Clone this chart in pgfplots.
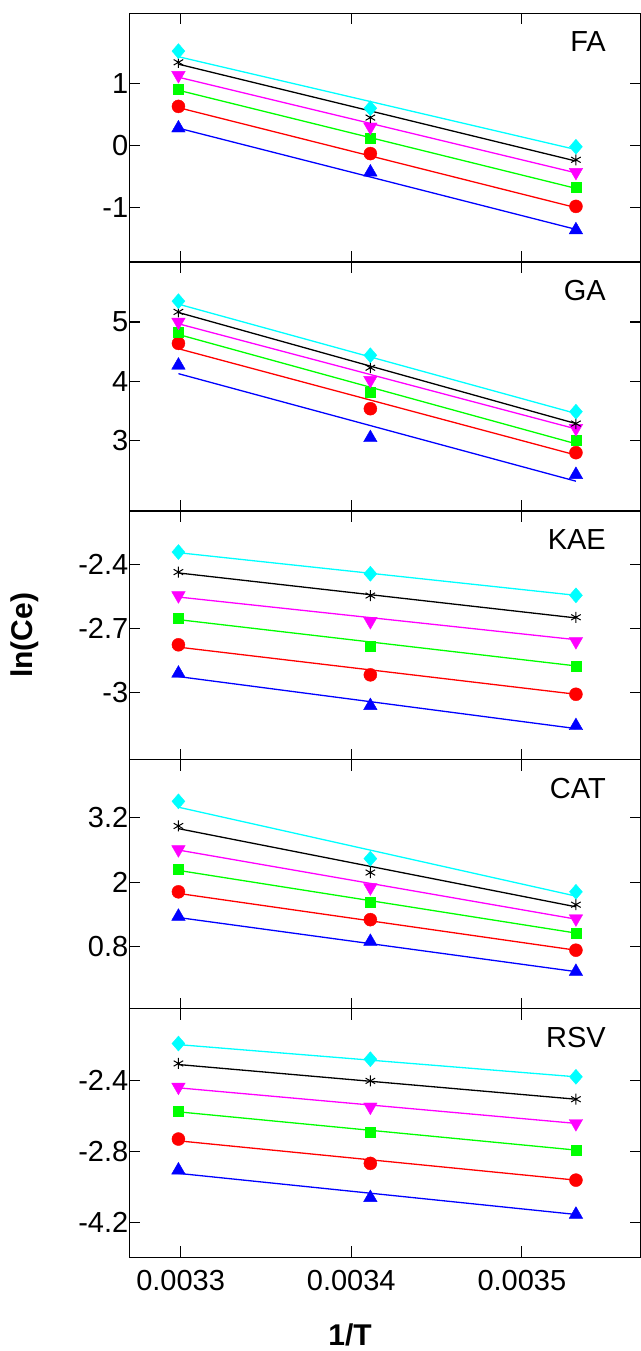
\documentclass[border=0pt]{standalone}
\usepackage{pgfplots}
\usepackage{pgfplotstable}
\pgfplotsset{compat=1.18}
\usepackage{fontspec}
\setmainfont{Liberation Sans}

\definecolor{cCyan}{RGB}{0,255,255}
\definecolor{cMag}{RGB}{255,0,255}
\definecolor{cGreen}{RGB}{0,255,0}
\definecolor{cRed}{RGB}{255,0,0}
\definecolor{cBlue}{RGB}{0,0,255}

% ---------- data: points (x, blue, red, green, magenta, black, cyan) ----------
\pgfplotstableread{
x b r g m k c
0.0032987 0.28 0.63 0.91 1.13 1.34 1.52
0.0034112 -0.43 -0.13 0.11 0.30 0.45 0.60
0.0035317 -1.36 -0.98 -0.67 -0.43 -0.23 -0.02
}\FApts
\pgfplotstableread{
x b r g m k c
0.0032987 0.28 0.61 0.89 1.10 1.31 1.43
0.0035317 -1.35 -1.00 -0.69 -0.44 -0.25 -0.065
}\FAfit
\pgfplotstableread{
x b r g m k c
0.0032987 4.27 4.64 4.83 5.00 5.17 5.35
0.0034112 3.05 3.54 3.82 4.02 4.23 4.44
0.0035317 2.43 2.80 3.01 3.21 3.29 3.49
}\GApts
\pgfplotstableread{
x b r g m k c
0.0032987 4.13 4.55 4.79 4.97 5.16 5.30
0.0035317 2.32 2.76 2.95 3.20 3.29 3.46
}\GAfit
\pgfplotstableread{
x b r g m k c
0.0032987 -2.911 -2.777 -2.651 -2.546 -2.436 -2.342
0.0034112 -3.063 -2.918 -2.785 -2.667 -2.546 -2.444
0.0035317 -3.157 -3.009 -2.876 -2.761 -2.648 -2.545
}\KAEpts
\pgfplotstableread{
x b r g m k c
0.0032987 -2.926 -2.788 -2.659 -2.553 -2.440 -2.345
0.0035317 -3.170 -3.009 -2.876 -2.753 -2.651 -2.545
}\KAEfit
\pgfplotstableread{
x b r g m k c
0.0032987 1.36 1.82 2.24 2.61 3.05 3.51
0.0034112 0.89 1.30 1.62 1.90 2.18 2.44
0.0035317 0.33 0.73 1.05 1.32 1.58 1.82
}\CATpts
\pgfplotstableread{
x b r g m k c
0.0032987 1.34 1.79 2.22 2.60 3.00 3.40
0.0035317 0.33 0.73 1.05 1.31 1.54 1.74
}\CATfit
\pgfplotstableread{
x b r g m k c
0.0032987 -2.906 -2.731 -2.574 -2.438 -2.306 -2.194
0.0034112 -3.061 -2.868 -2.694 -2.550 -2.404 -2.282
0.0035317 -3.155 -2.962 -2.793 -2.643 -2.507 -2.381
}\RSVpts
\pgfplotstableread{
x b r g m k c
0.0032987 -2.924 -2.741 -2.578 -2.443 -2.312 -2.200
0.0035317 -3.155 -2.962 -2.793 -2.643 -2.507 -2.381
}\RSVfit

\newcommand\drawseries[2]{%
  \addplot[cBlue, fitline] table[x=x,y=b]{#2};
  \addplot[cRed, fitline] table[x=x,y=r]{#2};
  \addplot[cGreen, fitline] table[x=x,y=g]{#2};
  \addplot[cMag, fitline] table[x=x,y=m]{#2};
  \addplot[black, fitline] table[x=x,y=k]{#2};
  \addplot[cCyan, fitline] table[x=x,y=c]{#2};
  \addplot[only marks, cBlue, mark=triangle*, mark size=7.8pt] table[x=x,y=b]{#1};
  \addplot[only marks, cRed, mark=*, mark size=6.5pt] table[x=x,y=r]{#1};
  \addplot[only marks, cGreen, mark=square*, mark size=5pt] table[x=x,y=g]{#1};
  \addplot[only marks, cMag, mark=triangle*, mark size=7.8pt, mark options={rotate=180}] table[x=x,y=m]{#1};
  \addplot[only marks, black, mark=asterisk, mark size=5.5pt, mark options={line width=1pt}] table[x=x,y=k]{#1};
  \addplot[only marks, cCyan, mark=diamond*, mark size=7.5pt, mark options={xscale=1.15}] table[x=x,y=c]{#1};
}

\tikzset{
  fitline/.style={line width=1.3pt},
  pname/.style={inner sep=0pt, anchor=north east, font=\fontsize{29}{34}\selectfont},
}
\pgfplotsset{
  panel/.style={
    scale only axis, width=511.2pt, height=248.8pt,
    xmin=0.0032699, xmax=0.00356955,
    scaled x ticks=false, scaled y ticks=false,
    xtick={0.0033,0.0034,0.0035}, xticklabels=\empty,
    axis line style={line width=1.2pt},
    major tick length=11pt,
    every tick/.style={line width=1.1pt, black},
    tick label style={font=\fontsize{29}{34}\selectfont},
    yticklabel style={xshift=2.5pt},
    xticklabel style={yshift=-9pt},
    clip=false,
  },
}

\begin{document}
\begin{tikzpicture}
\useasboundingbox (0,0) rectangle (640pt,-1351pt);

\begin{axis}[panel, at={(129.3pt,-13.3pt)}, anchor=north west,
  ymin=-1.877, ymax=2.129, ytick={-1,0,1}, yticklabels={-1,0,1}]
  \drawseries{\FApts}{\FAfit}
  \node[pname] at (axis description cs:0.9325,0.9265) {FA};
\end{axis}

\begin{axis}[panel, at={(129.3pt,-262.1pt)}, anchor=north west,
  ymin=1.82, ymax=6.008, ytick={3,4,5}, yticklabels={3,4,5}]
  \drawseries{\GApts}{\GAfit}
  \node[pname] at (axis description cs:0.9325,0.9265) {GA};
\end{axis}

\begin{axis}[panel, at={(129.3pt,-510.9pt)}, anchor=north west,
  ymin=-3.316, ymax=-2.149, ytick={-3,-2.7,-2.4}, yticklabels={-3,-2.7,-2.4},
  ylabel={ln(Ce)}, ylabel style={at={(axis description cs:-0.204,0.5)}, anchor=center, font=\fontsize{30}{36}\selectfont\bfseries}]
  \drawseries{\KAEpts}{\KAEfit}
  \node[pname] at (axis description cs:0.9325,0.9265) {KAE};
\end{axis}

\begin{axis}[panel, at={(129.3pt,-759.7pt)}, anchor=north west,
  ymin=-0.359, ymax=4.287, ytick={0.8,2,3.2}, yticklabels={0.8,2,3.2}]
  \drawseries{\CATpts}{\CATfit}
  \node[pname] at (axis description cs:0.9325,0.9265) {CAT};
\end{axis}

\begin{axis}[panel, at={(129.3pt,-1008.5pt)}, anchor=north west,
  ymin=-3.396, ymax=-1.997, ytick={-3.2,-2.8,-2.4}, yticklabels={-4.2,-2.8,-2.4},
  xticklabels={0.0033,0.0034,0.0035},
  xlabel={1/T}, xlabel style={at={(axis description cs:0.432,-0.312)}, anchor=center, font=\fontsize{30}{36}\selectfont\bfseries}]
  \drawseries{\RSVpts}{\RSVfit}
  \node[pname] at (axis description cs:0.9325,0.9265) {RSV};
\end{axis}
\end{tikzpicture}
\end{document}
